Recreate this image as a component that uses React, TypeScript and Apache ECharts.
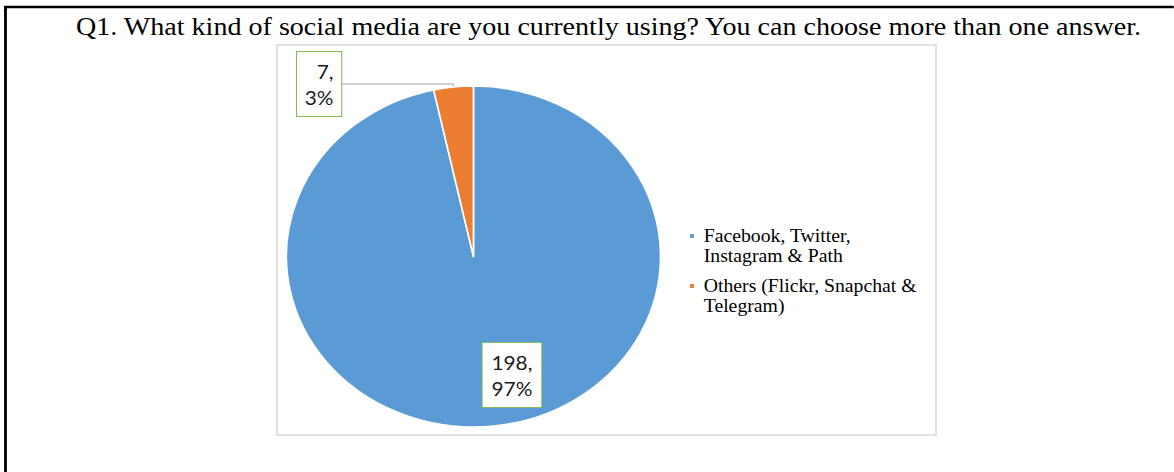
import React, { useEffect, useRef } from "react";
import * as echarts from "echarts";

// The reference picture is stretched horizontally; reproduce that with a CSS scaleX.
const SX = 1.097;
const W = 1174 / SX;
const H = 472;

const titleText =
  "Q1. What kind of social media are you currently using? You can choose more than one answer.";
const categories = [
  "Facebook, Twitter,\nInstagram & Path",
  "Others (Flickr, Snapchat &\nTelegram)",
];
const counts = [198, 7];
const colors = ["#5B9BD5", "#ED7D31"];

export default function App() {
  const ref = useRef<HTMLDivElement>(null);

  useEffect(() => {
    if (!ref.current) return;
    const chart = echarts.init(ref.current, null, { renderer: "svg" });
    const labelFont = {
      fontFamily: "Lato",
      fontSize: 19,
      lineHeight: 26,
      color: "#1a1a1a",
      backgroundColor: "#ffffff",
      borderColor: "#82BD5C",
      borderWidth: 1,
      align: "center" as const,
    };
    chart.setOption({
      animation: false,
      backgroundColor: "#ffffff",
      graphic: [
        {
          type: "polyline",
          z: 0,
          shape: { points: [[5, H + 5], [5, 7], [W + 5, 7]] },
          style: { stroke: "#000000", lineWidth: 2.6, fill: "none" },
        },
        {
          type: "rect",
          z: 0,
          shape: { x: 252.5, y: 45, width: 600.7, height: 390 },
          style: { fill: "none", stroke: "#D9D9D9", lineWidth: 1.5 },
        },
        {
          type: "text",
          x: 554.7,
          y: 26,
          style: {
            text: titleText,
            fontFamily: "Liberation Serif",
            fontSize: 25.6,
            fill: "#000000",
            textAlign: "center",
            textVerticalAlign: "middle",
          },
        },
      ],
      legend: {
        orient: "vertical",
        left: 629,
        top: 206,
        padding: 0,
        itemGap: -10,
        itemWidth: 3.5,
        itemHeight: 4,
        icon: "rect",
        selectedMode: false,
        itemStyle: { borderWidth: 0 },
        formatter: (name: string) => "\n" + name,
        textStyle: {
          fontFamily: "Liberation Serif",
          fontSize: 18,
          lineHeight: 20,
          color: "#000000",
          padding: [0, 0, 0, 4],
        },
        data: categories,
      },
      series: [
        {
          type: "pie",
          center: [431.6, 256.5],
          radius: [0, 170.5],
          startAngle: 90,
          clockwise: true,
          avoidLabelOverlap: false,
          percentPrecision: 0,
          itemStyle: { borderColor: "#ffffff", borderWidth: 1.5 },
          label: {
            formatter: "{c},\n{d}%",
            ...labelFont,
          },
          labelLine: {
            length: 3,
            length2: 102,
            lineStyle: { color: "#A6A6A6", width: 1 },
          },
          labelLayout: (params: any) =>
            params.dataIndex === 0 ? { dx: 25.6, dy: 30.8 } : {},
          data: categories.map((name, i) => ({
            name,
            value: counts[i],
            itemStyle: { color: colors[i] },
            label:
              i === 0
                ? { position: "inside", padding: [6, 8, 6, 8], ...labelFont }
                : {
                    position: "outside",
                    distanceToLabelLine: 0,
                    padding: [6, 7, 6, 7],
                    ...labelFont,
                  },
            labelLine: { show: i !== 0 },
          })),
        },
      ],
    });
    return () => chart.dispose();
  }, []);

  return (
    <div
      ref={ref}
      style={{
        position: "fixed",
        left: 0,
        top: 0,
        width: W + "px",
        height: H + "px",
        transform: `scaleX(${SX})`,
        transformOrigin: "0 0",
        background: "#fff",
      }}
    />
  );
}
